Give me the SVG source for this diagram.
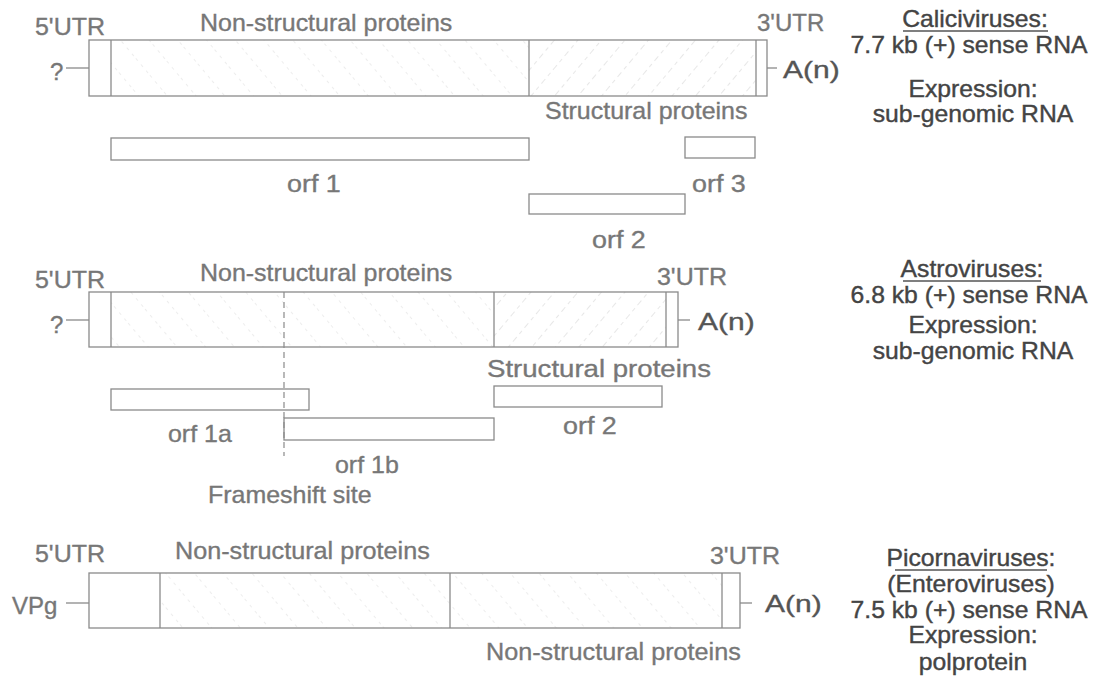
<svg xmlns="http://www.w3.org/2000/svg" width="1099" height="677" viewBox="0 0 1099 677">
<defs>
<pattern id="hb" width="22" height="22" patternUnits="userSpaceOnUse" patternTransform="rotate(-40)">
<line x1="0" y1="0" x2="0" y2="22" stroke="#dcdcdc" stroke-width="1" stroke-dasharray="3 5"/>
</pattern>
<pattern id="hf" width="18" height="18" patternUnits="userSpaceOnUse" patternTransform="rotate(40)">
<line x1="0" y1="0" x2="0" y2="18" stroke="#d0d0d0" stroke-width="1" stroke-dasharray="4 4"/>
</pattern>
</defs>
<style>
.bx{fill:none;stroke:#8a8a8a;stroke-width:1.3}
.ln{stroke:#8a8a8a;stroke-width:1.3;fill:none}
.dl{stroke:#8a8a8a;stroke-width:1.2;stroke-dasharray:6 4;fill:none}
.t{font-family:"Liberation Sans",Arial,sans-serif;font-size:24px;fill:#777;stroke:#777;stroke-width:0.35}
.a{font-family:"Liberation Sans",Arial,sans-serif;font-size:24px;fill:#555;stroke:#555;stroke-width:0.35}
.r{font-family:"Liberation Sans",Arial,sans-serif;font-size:24px;fill:#444;stroke:#444;stroke-width:0.4;text-anchor:middle}
.u{stroke:#555;stroke-width:1.4}
</style>
<rect width="1099" height="677" fill="#fff"/>

<g id="calici">
<rect x="111" y="40" width="418" height="56" fill="url(#hb)"/>
<rect x="529" y="40" width="227" height="56" fill="url(#hf)"/>
<rect class="bx" x="89" y="40" width="678" height="56"/>
<line class="ln" x1="111" y1="40" x2="111" y2="96"/>
<line class="ln" x1="529" y1="40" x2="529" y2="96"/>
<line class="ln" x1="756" y1="40" x2="756" y2="96"/>
<line class="ln" x1="66" y1="68" x2="89" y2="68"/>
<line class="ln" x1="767" y1="68" x2="777" y2="68"/>
<text class="t" transform="translate(35 35) scale(1.04 1)">5'UTR</text>
<text class="t" transform="translate(200 31) scale(1.04 1)">Non-structural proteins</text>
<text class="t" transform="translate(757 31) scale(1.0 1)">3'UTR</text>
<text class="t" transform="translate(50 80) scale(1.0 1)">?</text>
<text class="a" transform="translate(783 78) scale(1.25 1)">A(n)</text>
<text class="t" transform="translate(545 119) scale(1.04 1)">Structural proteins</text>
<rect class="bx" x="111" y="138" width="418" height="22"/>
<rect class="bx" x="685" y="137" width="70" height="21"/>
<rect class="bx" x="529" y="194" width="156" height="20"/>
<text class="t" transform="translate(287 192) scale(1.12 1)">orf 1</text>
<text class="t" transform="translate(692 192) scale(1.12 1)">orf 3</text>
<text class="t" transform="translate(592 248) scale(1.12 1)">orf 2</text>
<text class="r" transform="translate(975 27) scale(1.03 1)">Caliciviruses:</text>
<line class="u" x1="903" y1="31" x2="1048" y2="31"/>
<text class="r" transform="translate(969 53) scale(1.03 1)">7.7 kb (+) sense RNA</text>
<text class="r" transform="translate(973 97) scale(1.03 1)">Expression:</text>
<text class="r" transform="translate(973 122) scale(1.03 1)">sub-genomic RNA</text>
</g>

<g id="astro">
<rect x="111" y="292" width="383" height="55" fill="url(#hb)"/>
<rect x="494" y="292" width="172" height="55" fill="url(#hf)"/>
<rect class="bx" x="89" y="292" width="589" height="55"/>
<line class="ln" x1="111" y1="292" x2="111" y2="347"/>
<line class="ln" x1="494" y1="292" x2="494" y2="347"/>
<line class="ln" x1="666" y1="292" x2="666" y2="347"/>
<line class="ln" x1="66" y1="320" x2="89" y2="320"/>
<line class="ln" x1="678" y1="320" x2="690" y2="320"/>
<line class="dl" x1="284" y1="292" x2="284" y2="456"/>
<text class="t" transform="translate(35 288) scale(1.04 1)">5'UTR</text>
<text class="t" transform="translate(200 281) scale(1.04 1)">Non-structural proteins</text>
<text class="t" transform="translate(657 285) scale(1.04 1)">3'UTR</text>
<text class="t" transform="translate(50 333) scale(1.0 1)">?</text>
<text class="a" transform="translate(698 330) scale(1.25 1)">A(n)</text>
<text class="t" transform="translate(487 377) scale(1.15 1)">Structural proteins</text>
<rect class="bx" x="111" y="389" width="198" height="21"/>
<rect class="bx" x="494" y="386" width="168" height="21"/>
<rect class="bx" x="284" y="418" width="210" height="22"/>
<text class="t" transform="translate(168 442) scale(1.04 1)">orf 1a</text>
<text class="t" transform="translate(563 434) scale(1.12 1)">orf 2</text>
<text class="t" transform="translate(335 473) scale(1.04 1)">orf 1b</text>
<text class="t" transform="translate(208 503) scale(1.04 1)">Frameshift site</text>
<text class="r" transform="translate(972 277) scale(1.03 1)">Astroviruses:</text>
<line class="u" x1="903" y1="281" x2="1041" y2="281"/>
<text class="r" transform="translate(969 303) scale(1.03 1)">6.8 kb (+) sense RNA</text>
<text class="r" transform="translate(973 333) scale(1.03 1)">Expression:</text>
<text class="r" transform="translate(973 359) scale(1.03 1)">sub-genomic RNA</text>
</g>

<g id="picorna">
<rect x="160" y="573" width="290" height="55" fill="url(#hb)"/>
<rect x="450" y="573" width="272" height="55" fill="url(#hb)"/>
<rect class="bx" x="89" y="573" width="651" height="55"/>
<line class="ln" x1="160" y1="573" x2="160" y2="628"/>
<line class="ln" x1="450" y1="573" x2="450" y2="628"/>
<line class="ln" x1="722" y1="573" x2="722" y2="628"/>
<line class="ln" x1="66" y1="603" x2="89" y2="603"/>
<line class="ln" x1="740" y1="603" x2="752" y2="603"/>
<text class="t" transform="translate(35 562) scale(1.04 1)">5'UTR</text>
<text class="t" transform="translate(175 559) scale(1.05 1)">Non-structural proteins</text>
<text class="t" transform="translate(710 564) scale(1.04 1)">3'UTR</text>
<text class="t" transform="translate(12 614) scale(1.0 1)">VPg</text>
<text class="a" transform="translate(765 612) scale(1.25 1)">A(n)</text>
<text class="t" transform="translate(486 660) scale(1.05 1)">Non-structural proteins</text>
<text class="r" transform="translate(971 566) scale(1.03 1)">Picornaviruses:</text>
<line class="u" x1="895" y1="570" x2="1047" y2="570"/>
<text class="r" transform="translate(971 592) scale(1.03 1)">(Enteroviruses)</text>
<text class="r" transform="translate(969 618) scale(1.03 1)">7.5 kb (+) sense RNA</text>
<text class="r" transform="translate(973 643) scale(1.03 1)">Expression:</text>
<text class="r" transform="translate(973 670) scale(1.03 1)">polprotein</text>
</g>

<g id="connectors"></g>
</svg>
